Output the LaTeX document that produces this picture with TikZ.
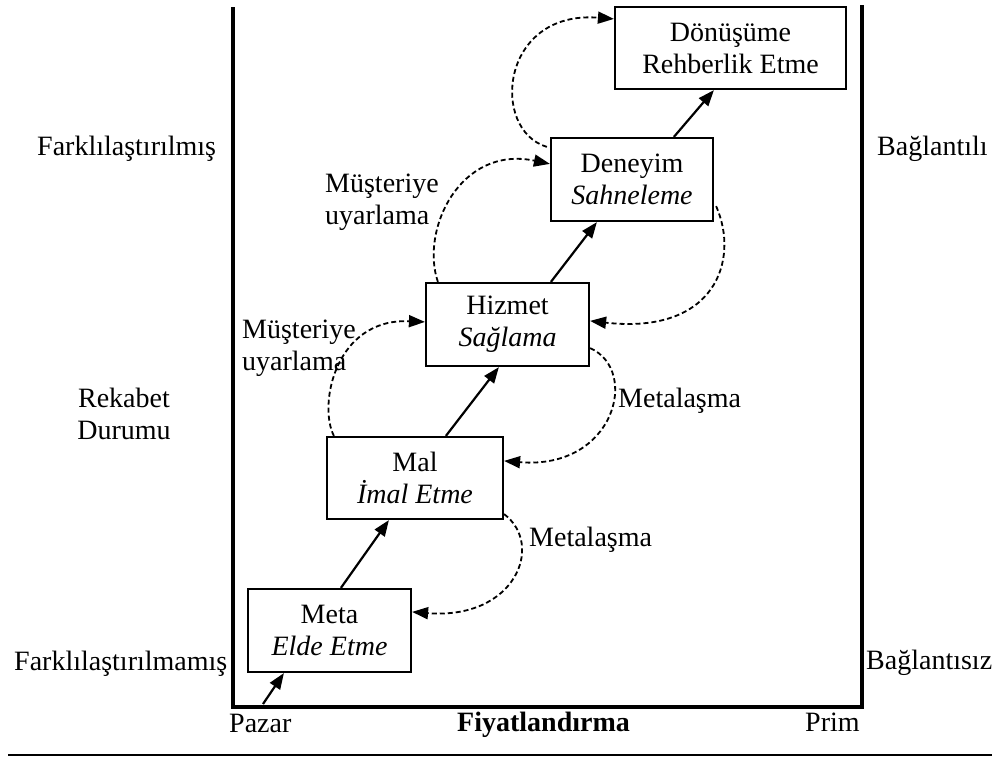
\documentclass[tikz,border=0pt]{standalone}
\usepackage{fontspec}
\setmainfont{Liberation Serif}
\usetikzlibrary{arrows.meta,calc}
\begin{document}
\begin{tikzpicture}[x=1pt,y=-1pt,
  every node/.style={font=\fontsize{28}{32}\selectfont, inner sep=0pt},
  box/.style={draw, line width=2.2pt, align=center},
  flow/.style={line width=2.2pt, -{Triangle[length=16pt,width=12pt]}},
  loopar/.style={line width=1.8pt, dash pattern=on 5pt off 3pt, -{Triangle[length=16pt,width=12pt]}},
  axisline/.style={line width=3.8pt}]
\useasboundingbox (0,0) rectangle (992,758);

% frame
\draw[axisline] (233,7) -- (233,707) -- (862,707) -- (862,5);
\draw[line width=2.4pt] (8,755) -- (992,755);

% boxes
\node[box, minimum width=231pt, minimum height=82pt] (don) at (730.5,48) {Dönüşüme\\Rehberlik Etme};
\node[box, minimum width=162pt, minimum height=83pt] (den) at (632,179.5) {Deneyim\\\textit{Sahneleme}};
\node[box, minimum width=163pt, minimum height=83pt] (hiz) at (507.5,324.5) {Hizmet\\\textit{Sağlama}};
\node[box, minimum width=176pt, minimum height=82pt] (mal) at (415,478) {Mal\\\textit{İmal Etme}};
\node[box, minimum width=163pt, minimum height=83pt] (meta) at (329.5,630.5) {Meta\\\textit{Elde Etme}};

% solid progression arrows
\coordinate (o) at (263,704);
\draw[flow] (o) -- ($(meta.south west)+(37,0)$);
\draw[flow] ($(meta.north west)+(94,0)$) -- ($(mal.south west)+(63,0)$);
\draw[flow] ($(mal.north west)+(120,0)$) -- ($(hiz.south west)+(74,0)$);
\draw[flow] ($(hiz.north west)+(126,0)$) -- ($(den.south west)+(47,0)$);
\draw[flow] ($(den.north west)+(124,0)$) -- ($(don.south west)+(100,0)$);

% dashed loops
\draw[loopar] ($(den.north west)+(-3,10)$) .. controls (490,130) and (500,10) .. ($(don.north west)+(0,13)$);
\draw[loopar] ($(hiz.north west)+(13,0)$) .. controls (420,230) and (460,145) .. ($(den.north west)+(0,27)$);
\draw[loopar] ($(mal.north west)+(8,0)$) .. controls (318,405) and (335,318) .. ($(hiz.north west)+(0,40)$);
\draw[loopar] ($(den.south east)+(2,-16)$) .. controls (740,260) and (715,335) .. ($(hiz.north east)+(0,39)$);
\draw[loopar] ($(hiz.south east)+(0,-19)$) .. controls (640,370) and (615,470) .. ($(mal.north east)+(0,25)$);
\draw[loopar] ($(mal.south east)+(0,-6)$) .. controls (545,545) and (515,620) .. ($(meta.north east)+(0,24)$);

% loop labels
\node[anchor=base west] (met1) at (529,546) {Metalaşma};
\node[anchor=base west] (met2) at (618,407) {Metalaşma};
\node[anchor=west, align=left] (mus1) at (325,202) {Müşteriye\\uyarlama};
\node[anchor=west, align=left] (mus2) at (242,348) {Müşteriye\\uyarlama};

% side labels
\node[anchor=base west] (fark1) at (37,155) {Farklılaştırılmış};
\node[align=center] (rek) at (124,413.5) {Rekabet\\Durumu};
\node[anchor=base west] (fark2) at (14,670) {Farklılaştırılmamış};
\node[anchor=base west] (bag1) at (877,155) {Bağlantılı};
\node[anchor=base west] (bag2) at (866,669) {Bağlantısız};

% axis labels
\node[anchor=base west] (pazar) at (229,732) {Pazar};
\node[anchor=base west, font=\fontsize{28}{32}\selectfont\bfseries] (fiyat) at (457,731) {Fiyatlandırma};
\node[anchor=base west] (prim) at (805,731) {Prim};
\end{tikzpicture}
\end{document}
